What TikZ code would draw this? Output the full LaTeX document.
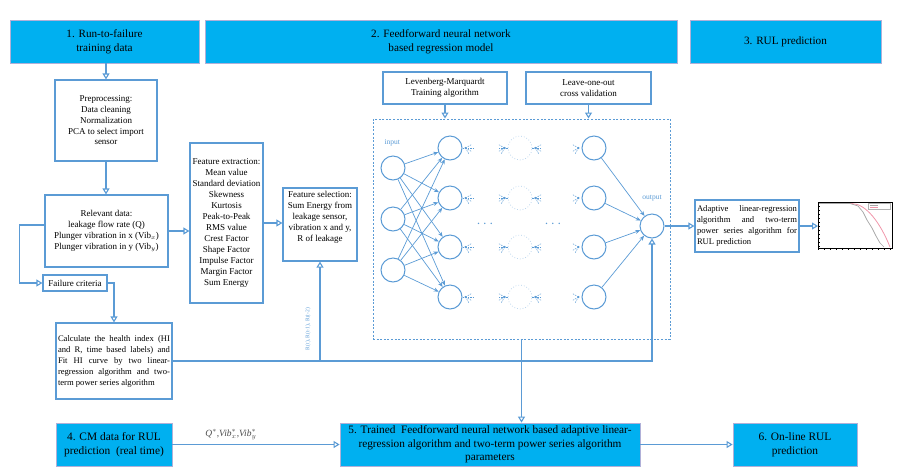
\documentclass[tikz,border=0pt]{standalone}
\usepackage{fontspec}
\setmainfont{Liberation Serif}
\usetikzlibrary{arrows.meta,positioning,calc}
\definecolor{HeadCyan}{RGB}{0,176,240}
\definecolor{HeadEdge}{RGB}{176,176,216}
\definecolor{LineBlue}{RGB}{91,155,213}
\definecolor{FadeBlue}{RGB}{189,215,238}
\definecolor{PlotPink}{RGB}{240,150,170}
\tikzset{
	head/.style={draw=HeadEdge, fill=HeadCyan, line width=0.8pt, align=center, inner sep=2pt, font=\fontsize{11.2}{14}\selectfont},
	box/.style={draw=LineBlue, line width=1.2pt, align=center, inner sep=2pt, font=\fontsize{9}{11}\selectfont},
	flow/.style={draw=LineBlue, line width=1.1pt, -{Triangle[open,length=6pt,width=7pt]}},
	neuron/.style={circle, draw=LineBlue, line width=1pt, minimum size=24pt, inner sep=0pt},
	ghost/.style={circle, draw=FadeBlue, dotted, line width=0.8pt, minimum size=24pt, inner sep=0pt},
	wire/.style={draw=LineBlue, line width=0.7pt, -{Stealth[length=5pt,width=4pt]}},
	spray/.style={draw=LineBlue, line width=0.5pt, dash pattern=on 1.5pt off 1pt},
}

\begin{document}
\begin{tikzpicture}[x=1pt,y=-1pt]
	\useasboundingbox (0,0) rectangle (903,475);
	
	% headers
	\node[head, minimum width=189pt, minimum height=43pt] (h1) at (104.5,41.5) {1. Run-to-failure\\training data};
	\node[head, minimum width=472pt, minimum height=43pt] (h2) at (441,41.5) {2. Feedforward neural network\\based regression model};
	\node[head, minimum width=191pt, minimum height=43pt] (h3) at (785.5,41.5) {3. RUL prediction};
	
	% training data chain
	\node[box, minimum width=102pt, minimum height=81pt, font=\fontsize{9}{10.75}\selectfont] (pre) at (106,120.5) {Preprocessing:\\Data cleaning\\Normalization\\PCA to select import\\sensor};
	\node[box, minimum width=123pt, minimum height=72pt] (rel) at (106.5,231) {Relevant data:\\leakage flow rate (Q)\\Plunger vibration in x (Vib$_x$)\\Plunger vibration in y (Vib$_y$)};
	\node[box, minimum width=73pt, minimum height=160pt] (fext) at (226.5,223) {Feature extraction:\\Mean value\\Standard deviation\\Skewness\\Kurtosis\\Peak-to-Peak\\RMS value\\Crest Factor\\Shape Factor\\Impulse Factor\\Margin Factor\\Sum Energy};
	\node[box, minimum width=74pt, minimum height=73pt, inner sep=1pt] (fsel) at (320,224.5) {Feature selection:\\Sum Energy from\\leakage sensor,\\vibration x and y,\\R of leakage\\[5pt]};
	\node[box, minimum width=64pt, minimum height=16pt, inner sep=1pt] (fail) at (75,283) {Failure criteria};
	\node[box, text width=112pt, minimum height=76pt, align=justify, font=\fontsize{8.6}{11}\selectfont] (calc) at (114,361) {Calculate the health index (HI\linebreak and R, time based labels) and\linebreak Fit HI curve by two linear-\linebreak regression algorithm and two-\linebreak term power series algorithm};
	
	% network
	\node[box, minimum width=124pt, minimum height=32pt, font=\fontsize{9}{10.5}\selectfont] (lm) at (445,88) {Levenberg-Marquardt\\Training algorithm};
	\node[box, minimum width=125pt, minimum height=32pt, font=\fontsize{9}{10.5}\selectfont] (loo) at (588.5,88) {Leave-one-out\\cross validation};
	\node[draw=LineBlue, line width=1pt, dash pattern=on 2pt off 1.6pt, minimum width=297pt, minimum height=220pt] (net) at (521.5,229) {};
	
	\foreach \i/\y in {1/168,2/219,3/270}
		\node[neuron] (in\i) at (393,\y) {};
	\foreach \j/\y in {1/148,2/198,3/247,4/297} {
		\node[neuron] (ha\j) at (450,\y) {};
		\node[ghost] (hb\j) at (520,\y) {};
		\node[neuron] (hc\j) at (594,\y) {};
	}
	\node[neuron] (out) at (652,226) {};
	\node[LineBlue, anchor=west, font=\fontsize{7.5}{8}\selectfont] (inlab) at (381,143) {input};
	\node[LineBlue, font=\fontsize{7.5}{8}\selectfont] (outlab) at (652,198) {output};
	\node[LineBlue, font=\Large] (dotsa) at (485,224) {$\cdots$};
	\node[LineBlue, font=\Large] (dotsb) at (553,224) {$\cdots$};
	
	\foreach \i in {1,2,3}
		\foreach \j in {1,...,4}
			\draw[wire] (in\i) -- (ha\j);
	\foreach \j in {1,...,4}
		\draw[wire] (hc\j) -- (out);
	
	% little stubs round the hidden layers
	\foreach \j in {1,...,4} {
		\fill[LineBlue] ([xshift=3pt]ha\j.east) circle (1.2pt);
		\draw[spray] (ha\j.east) -- ++(12,0);
		\foreach \a in {-30,-60,30}
			\draw[spray] ([xshift=3pt]ha\j.east) -- ++(\a:7pt);
		\fill[LineBlue] ([xshift=-3pt]hb\j.west) circle (1.2pt);
		\fill[LineBlue] ([xshift=3pt]hb\j.east) circle (1.2pt);
		\draw[spray] (hb\j.west) -- ++(-10,0);
		\draw[spray] (hb\j.east) -- ++(10,0);
		\foreach \a in {-30,-60,30} {
			\draw[spray] ([xshift=-3pt]hb\j.west) -- ++(180-\a:7pt);
			\draw[spray] ([xshift=3pt]hb\j.east) -- ++(\a:7pt);
		}
		\fill[LineBlue] ([xshift=-3pt]hc\j.west) circle (1.2pt);
		\foreach \a in {-30,-60,30}
			\draw[spray] ([xshift=-3pt]hc\j.west) -- ++(180-\a:7pt);
	}
	
	% RUL prediction
	\node[box, text width=100pt, minimum height=52pt, align=justify, font=\fontsize{8.6}{11}\selectfont] (adp) at (747,226) {Adaptive linear-regression\linebreak algorithm and two-term\linebreak power series algorithm for\linebreak RUL prediction};
	\coordinate (plotw) at (818,226);
	\draw[black, line width=1pt] (818,202) rectangle (892,248);
	\foreach \t in {0,...,12}
		\draw[black, line width=0.4pt] ({818+\t*6},248) -- ++(0,2);
	\foreach \t in {0,...,11}
		\draw[black, line width=0.4pt] (818,{202+\t*4}) -- ++(2,0);
	\draw[PlotPink, line width=0.8pt] (819,203.5) -- (852,203.5) .. controls (866,204) and (880,222) .. (890,247);
	\draw[gray!70, line width=0.7pt] (819,203.5) -- (850,203.5) -- (858,206) -- (863,212) -- (867,220) -- (872,228) -- (876,236) -- (880,243) -- (884,247);
	\draw[gray!60, line width=0.3pt] (868,203) rectangle (890,209);
	\draw[gray!70, line width=0.4pt] (870,205) -- (878,205);
	\draw[PlotPink, line width=0.4pt] (870,207.5) -- (878,207.5);
	
	% real time row
	\node[head, minimum width=116pt, minimum height=43pt, font=\fontsize{11.4}{14}\selectfont] (b4) at (114,444.5) {4. CM data for RUL\\prediction~~(real time)};
	\node[head, minimum width=300pt, minimum height=43pt, font=\fontsize{11.3}{13.5}\selectfont] (b5) at (490,444.5) {5. Trained~~Feedforward neural network based adaptive linear-\\regression algorithm and two-term power series algorithm\\parameters};
	\node[head, minimum width=124pt, minimum height=43pt, font=\fontsize{11.4}{14}\selectfont] (b6) at (795,444.5) {6. On-line RUL\\prediction};
	
	% connectors
	\draw[flow] (pre.north |- h1.south) -- (pre.north);
	\draw[flow] (pre.south) -- (pre.south |- rel.north);
	\draw[flow] (rel.east) -- (rel.east -| fext.west);
	\draw[flow] (fext.east) -- (fext.east -| fsel.west);
	\draw[flow] ([yshift=6pt]rel.west) -- ++(-25,0) |- (fail.west);
	\draw[flow] (fail.east) -| (calc.north);
	\draw[flow] (calc.east) -| (out.south);
	\draw[flow] (fsel.south |- calc.east) -- (fsel.south);
	\node[LineBlue, rotate=90, font=\fontsize{5.6}{6}\selectfont] (rlab) at (308,329) {R(t), R(t-1), R(t-2)};
	\draw[flow] (lm.south) -- (lm.south |- net.north);
	\draw[flow] (loo.south) -- (loo.south |- net.north);
	\draw[flow] (net.south) -- (net.south |- b5.north);
	\draw[flow] (out.east) -- (adp.west);
	\draw[flow] (adp.east) -- (plotw);
	\draw[flow] (b4.east) -- node[above=1pt, pos=0.35, text=black!70, font=\fontsize{9.5}{10}\selectfont] (qlab) {\textit{Q}$^*$,\textit{Vib}$^*_x$,\textit{Vib}$^*_y$} (b5.west);
	\draw[flow] (b5.east) -- (b6.west);
\end{tikzpicture}
\end{document}
